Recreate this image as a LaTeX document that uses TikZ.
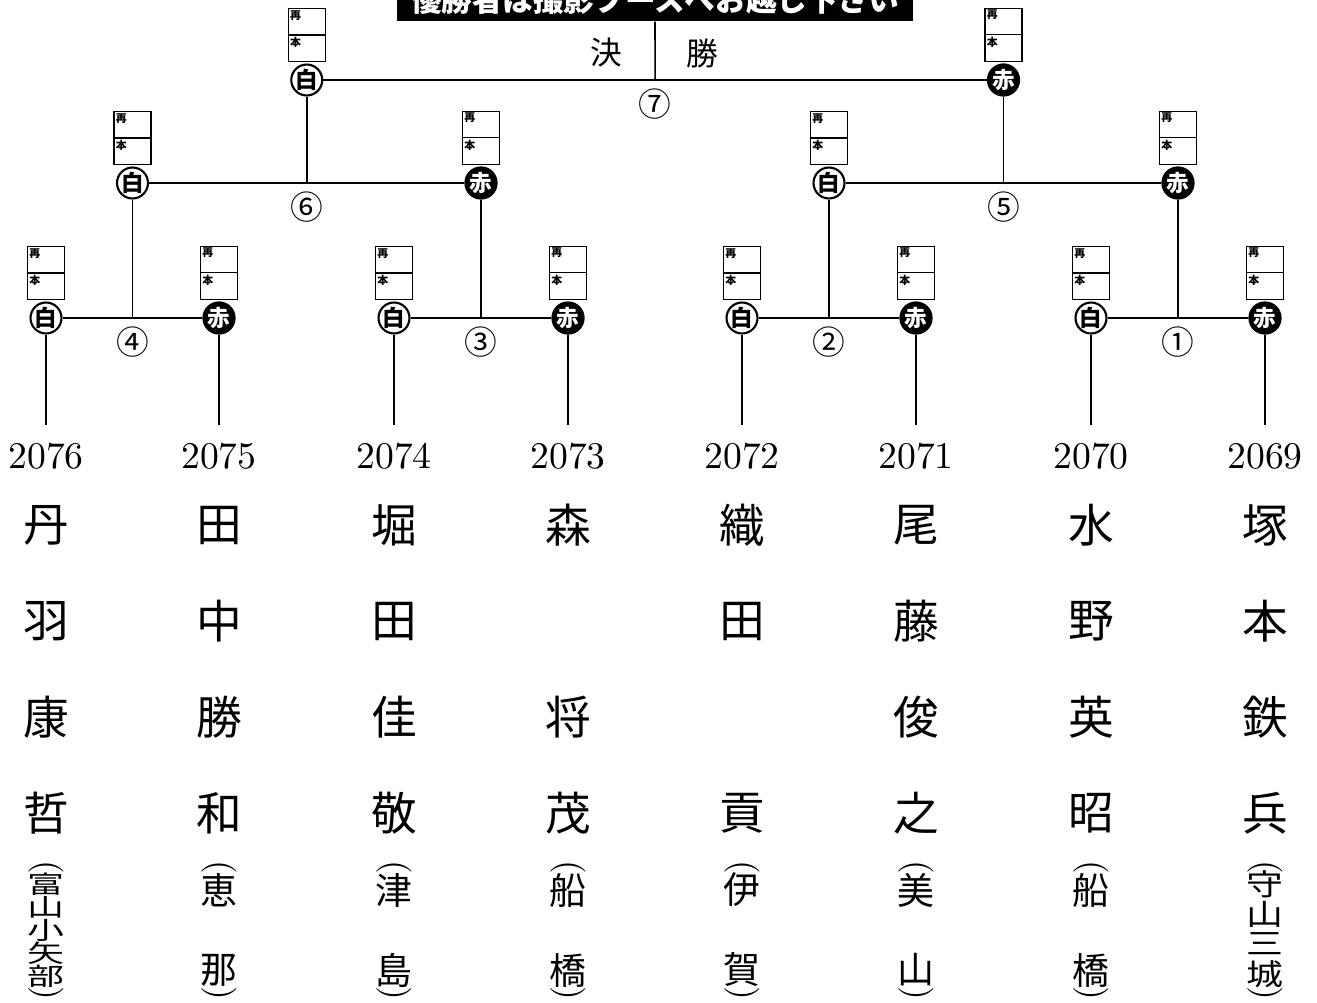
\documentclass[tikz,border=0pt]{standalone}
\usepackage{fontspec}
\newfontfamily\jp{Noto Sans CJK JP}
\usetikzlibrary{positioning, calc}

\tikzset{
  wire/.style={line width=0.45pt},
  shiro/.style={circle, draw, line width=0.6pt, fill=white, inner sep=0pt, minimum size=0.28cm,
    font=\jp\bfseries\fontsize{6.4}{7}\selectfont},
  aka/.style={shiro, fill=black, text=white},
  cardbox/.style={draw, line width=0.35pt, minimum width=0.37cm, minimum height=0.53cm, inner sep=0pt},
  cardtag/.style={font=\jp\bfseries\fontsize{3.1}{3.5}\selectfont, inner sep=0.5pt, anchor=north west},
  matchno/.style={font=\jp\fontsize{9.3}{9.5}\selectfont, inner sep=0pt},
  entryno/.style={font=\fontsize{10.7}{11}\selectfont, inner sep=0pt},
  namechar/.style={font=\jp\fontsize{13}{13}\selectfont, inner sep=0pt},
  homechar/.style={font=\jp\fontsize{10.5}{11}\selectfont, inner sep=0pt},
  paren/.style={font=\fontsize{10}{10}\selectfont, inner sep=0pt, rotate=-90}
}

% score card (再/本) sitting above a circle node
\newcommand{\scorecard}[1]{%
  \node[cardbox, anchor=south] (#1c) at ([yshift=0.4pt]#1.north) {};
  \draw[line width=0.35pt] (#1c.west) -- (#1c.east);
  \node[cardtag] (#1at) at (#1c.north west) {再};
  \node[cardtag] (#1bt) at (#1c.west) {本};
}

\begin{document}
\begin{tikzpicture}[x=0.01cm, y=-0.01cm]
  \useasboundingbox (0,0) rectangle (1317,1003);

  % banner
  \node[fill=black, text=white, font=\jp\bfseries\fontsize{8.7}{9}\selectfont,
    minimum width=5.16cm, minimum height=0.42cm, inner sep=0pt] (banner) at (655,0)
    {優勝者は撮影ブースへお越し下さい};

  % first round entries
  \foreach \x/\num/\a/\b/\c/\d [count=\i] in {46/2076/丹/羽/康/哲, 219/2075/田/中/勝/和,
      394/2074/堀/田/佳/敬, 568/2073/森//将/茂, 742/2072/織/田//貢,
      916/2071/尾/藤/俊/之, 1091/2070/水/野/英/昭, 1265/2069/塚/本/鉄/兵} {
    \ifodd\i
      \node[shiro] (L\i) at (\x,318) {白};
    \else
      \node[aka] (L\i) at (\x,318) {赤};
    \fi
    \scorecard{L\i}
    \coordinate (e\i) at (\x,425);
    \draw[wire] (L\i) -- (e\i);
    \node[entryno] (num\i) at (\x,456) {\num};
    \node[namechar] (nm\i a) at (\x,525) {\a};
    \node[namechar] (nm\i b) at (\x,621) {\b};
    \node[namechar] (nm\i c) at (\x,717) {\c};
    \node[namechar] (nm\i d) at (\x,813) {\d};
    \node[paren] (po\i) at (\x,867) {(};
    \node[paren] (pc\i) at (\x,993) {)};
  }

  % home towns
  \foreach \x/\p/\q [count=\i from 2] in {219/恵/那, 394/津/島, 568/船/橋, 742/伊/賀,
      916/美/山, 1091/船/橋} {
    \node[homechar] (hp\i) at (\x,890) {\p};
    \node[homechar] (hq\i) at (\x,970) {\q};
  }
  \foreach \y/\t [count=\k] in {884/富, 907/山, 930/小, 953/矢, 976/部}
    \node[homechar] (ha\k) at (46,\y) {\scalebox{1}[0.66]{\t}};
  \foreach \y/\t [count=\k] in {884/守, 914/山, 944/三, 974/城}
    \node[homechar] (hb\k) at (1265,\y) {\scalebox{1}[0.8]{\t}};

  % second round and final
  \node[shiro] (S1) at (132.5,183) {白};
  \node[aka] (S2) at (481,183) {赤};
  \node[shiro] (S3) at (829,183) {白};
  \node[aka] (S4) at (1178,183) {赤};
  \node[shiro] (F1) at (306.75,80) {白};
  \node[aka] (F2) at (1003.5,80) {赤};
  \foreach \n in {S1,S2,S3,S4,F1,F2} {
    \scorecard{\n}
  }

  % matches
  \foreach \l/\r/\up/\no [count=\k] in {L1/L2/S1/④, L3/L4/S2/③, L5/L6/S3/②, L7/L8/S4/①,
      S1/S2/F1/⑥, S3/S4/F2/⑤} {
    \draw[wire] (\l) -- (\r);
    \draw[wire] (\up) -- (\up |- \l);
    \node[matchno] (mno\k) at ($(\l)!0.5!(\r) + (0,24)$) {\no};
  }
  \draw[wire] (F1) -- (F2);
  \coordinate (top) at ($(F1)!0.5!(F2)$);
  \draw[wire] (top) -- (banner.south);
  \node[matchno] (mno7) at ($(top) + (0,24)$) {⑦};
  \node[font=\jp\fontsize{9}{9}\selectfont, inner sep=0pt] (kes) at (606,53) {決};
  \node[font=\jp\fontsize{9}{9}\selectfont, inner sep=0pt] (sho) at (702,53) {勝};
\end{tikzpicture}
\end{document}
